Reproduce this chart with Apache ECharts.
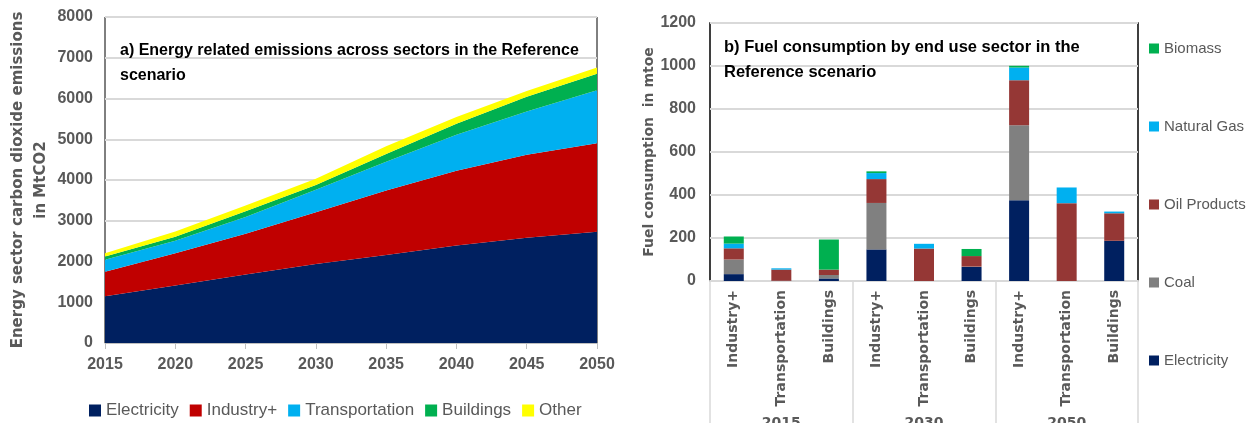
<!DOCTYPE html>
<html lang="en">
<head>
    <meta charset="UTF-8">
    <title>Emissions and fuel consumption</title>
    <script src="https://cdn.jsdelivr.net/npm/echarts@6/dist/echarts.min.js"></script>
    <style>
        html, body { margin: 0; padding: 0; background: #fff; }
        #main { width: 1249px; height: 423px; }
    </style>
</head>
<body>
<div id="main"></div>
<script>
    // left chart: emissions by sector (MtCO2)
    var years = ['2015', '2020', '2025', '2030', '2035', '2040', '2045', '2050'];
    var electricity = [1150, 1410, 1680, 1940, 2160, 2390, 2580, 2730];
    var industry = [600, 790, 1000, 1270, 1580, 1840, 2040, 2170];
    var transportation = [290, 310, 410, 550, 710, 880, 1060, 1300];
    var buildings = [80, 100, 145, 120, 190, 270, 360, 410];
    var other = [80, 125, 140, 150, 190, 165, 145, 150];

    // right chart: fuel consumption by end use (mtoe)
    var sectors = ['Industry+', 'Transportation', 'Buildings',
                   'Industry+', 'Transportation', 'Buildings',
                   'Industry+', 'Transportation', 'Buildings'];
    var groupYears = ['2015', '2030', '2050'];
    var fuelElectricity = [32, 1, 12, 147, 0, 65, 376, 0, 187];
    var fuelCoal = [68, 0, 16, 216, 0, 2, 349, 0, 0];
    var fuelOil = [52, 52, 25, 111, 151, 49, 209, 362, 128];
    var fuelGas = [22, 6, 0, 28, 22, 0, 59, 73, 8];
    var fuelBiomass = [33, 0, 140, 8, 0, 33, 8, 0, 0];

    var grey = '#595959';
    var tickFont = '"Liberation Sans", Arial, sans-serif';
    var wideFont = '"DejaVu Sans", Verdana, sans-serif';

    var myChart = echarts.init(document.getElementById('main'));

    function areaSeries(name, data, color) {
        return {
            name: name, type: 'line', stack: 'em', data: data,
            xAxisIndex: 0, yAxisIndex: 0,
            symbol: 'none', lineStyle: { width: 0 },
            areaStyle: { color: color, opacity: 1 },
            itemStyle: { color: color }
        };
    }
    function barSeries(name, data, color) {
        return {
            name: name, type: 'bar', stack: 'fuel', data: data,
            xAxisIndex: 1, yAxisIndex: 1, barWidth: 20,
            itemStyle: { color: color }
        };
    }
    function plain(v) { return String(v); }

    var option = {
        animation: false,
        title: [{
            text: 'a) Energy related emissions across sectors in the Reference\nscenario',
            left: 115, top: 33,
            textStyle: { fontFamily: tickFont, fontSize: 16, fontWeight: 'bold', color: '#000', lineHeight: 25 }
        }, {
            text: 'b) Fuel consumption by end use sector in the\nReference scenario',
            left: 719, top: 30,
            textStyle: { fontFamily: tickFont, fontSize: 16.5, fontWeight: 'bold', color: '#000', lineHeight: 25 }
        }],
        legend: [{
            data: ['Electricity', 'Industry+', 'Transportation', 'Buildings', 'Other'],
            left: 84, top: 397, itemWidth: 12, itemHeight: 12, itemGap: 11,
            icon: 'rect',
            textStyle: { fontFamily: tickFont, fontSize: 17, color: grey }
        }, {
            data: ['Biomass', 'Natural Gas', 'Oil Products', 'Coal', 'Electricity'],
            orient: 'vertical', left: 1144, top: 36,
            itemWidth: 10, itemHeight: 10, itemGap: 63,
            icon: 'rect',
            textStyle: { fontFamily: tickFont, fontSize: 15, color: grey }
        }],
        grid: [{
            left: 105, right: 652, top: 17, bottom: 80, outerBoundsMode: 'none',
            show: true, borderColor: '#000', borderWidth: 1
        }, {
            left: 710, right: 111, top: 23, bottom: 142, outerBoundsMode: 'none',
            show: true, borderColor: '#000', borderWidth: 1.5
        }],
        xAxis: [{
            gridIndex: 0, type: 'category', data: years, boundaryGap: false,
            axisLine: { lineStyle: { color: '#bfbfbf' } },
            axisTick: { show: true, length: 6, lineStyle: { color: '#bfbfbf' } },
            axisLabel: { fontFamily: tickFont, fontSize: 16, fontWeight: 'bold', color: grey, margin: 14 }
        }, {
            gridIndex: 1, type: 'category', data: sectors,
            axisLine: { lineStyle: { color: '#d9d9d9', width: 2 } },
            axisTick: { show: false },
            axisLabel: { rotate: 90, fontFamily: wideFont, fontSize: 14, fontWeight: 'bold', color: grey, margin: 9 }
        }, {
            gridIndex: 1, type: 'category', data: groupYears, position: 'bottom',
            axisLine: { show: false },
            axisTick: { show: true, length: 145, lineStyle: { color: '#d9d9d9', width: 1.5 } },
            axisLabel: { fontFamily: wideFont, fontSize: 14, fontWeight: 'bold', color: grey, margin: 135 }
        }],
        yAxis: [{
            gridIndex: 0, type: 'value', min: 0, max: 8000, interval: 1000,
            name: 'Energy sector carbon dioxide emissions\nin MtCO2',
            nameLocation: 'middle', nameGap: 52, nameRotate: 90,
            nameTextStyle: { fontFamily: wideFont, fontSize: 15, fontWeight: 'bold', color: grey, lineHeight: 23 },
            axisLine: { show: false }, axisTick: { show: false },
            axisLabel: { fontFamily: tickFont, fontSize: 16, fontWeight: 'bold', color: grey, margin: 12, formatter: plain },
            splitLine: { lineStyle: { color: '#d9d9d9', width: 2 } }
        }, {
            gridIndex: 1, type: 'value', min: 0, max: 1200, interval: 200,
            name: 'Fuel consumption  in mtoe',
            nameLocation: 'middle', nameGap: 52, nameRotate: 90,
            nameTextStyle: { fontFamily: wideFont, fontSize: 14, fontWeight: 'bold', color: grey },
            axisLine: { show: false }, axisTick: { show: false },
            axisLabel: { fontFamily: tickFont, fontSize: 16, fontWeight: 'bold', color: grey, margin: 14, formatter: plain },
            splitLine: { lineStyle: { color: '#d9d9d9', width: 2 } }
        }],
        series: [
            areaSeries('Electricity', electricity, '#002060'),
            areaSeries('Industry+', industry, '#c00000'),
            areaSeries('Transportation', transportation, '#00b0f0'),
            areaSeries('Buildings', buildings, '#00b050'),
            areaSeries('Other', other, '#ffff00'),
            barSeries('Electricity', fuelElectricity, '#002060'),
            barSeries('Coal', fuelCoal, '#808080'),
            barSeries('Oil Products', fuelOil, '#953735'),
            barSeries('Natural Gas', fuelGas, '#00b0f0'),
            barSeries('Biomass', fuelBiomass, '#00b050')
        ]
    };

    myChart.setOption(option);
</script>
</body>
</html>
